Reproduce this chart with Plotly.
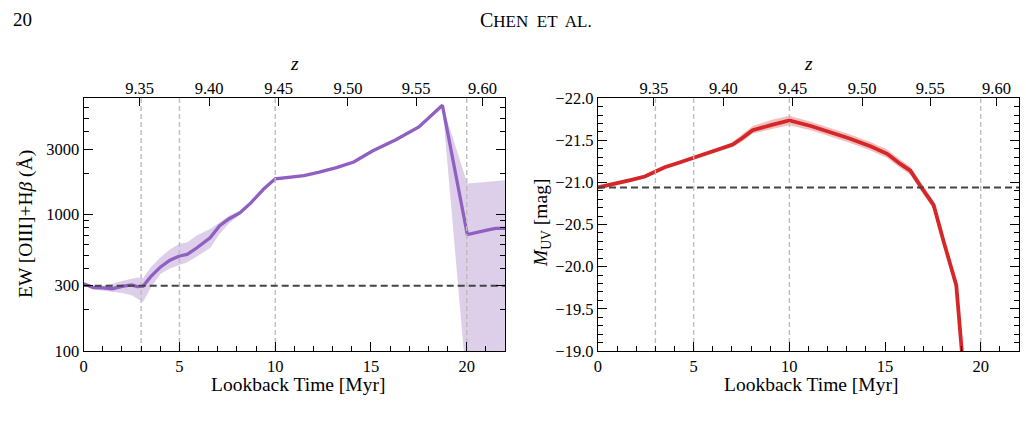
import plotly.graph_objects as go

# ---------------- data ----------------
# Left panel: EW [OIII]+Hbeta vs lookback time
t_ew = [0, 0.5, 1.0, 1.5, 2.0, 2.5, 2.8, 3.1, 3.5, 4.0, 4.5, 5.0, 5.4, 5.9, 6.6, 7.1,
        7.6, 8.15, 8.7, 9.4, 10.0, 10.6, 11.5, 12.3, 13.2, 14.1, 15.1, 16.3, 17.5,
        18.73, 20.03, 21.0, 21.5, 22.0]
ew = [310, 290, 289, 285, 296, 304, 295, 297, 349, 410, 461, 495, 508, 566, 673, 824,
      927, 1021, 1200, 1528, 1815, 1845, 1915, 2032, 2190, 2410, 2910, 3510, 4350,
      6270, 710, 761, 789, 789]
ew_low = [305, 282, 275, 270, 265, 255, 240, 228, 290, 365, 400, 425, 445, 490, 565, 720,
          860, 990, 1170, 1500, 1780, 1810, 1880, 1990, 2150, 2360, 2850, 3440, 4260,
          6270, 50, 50, 50, 50]
ew_high = [312, 300, 300, 310, 325, 340, 345, 340, 410, 482, 551, 607, 620, 700, 780, 870,
           980, 1060, 1230, 1560, 1850, 1880, 1950, 2070, 2230, 2460, 2970, 3580, 4440,
           6300, 1675, 1720, 1750, 1775]
ew_ref = 300

# Right panel: M_UV vs lookback time
t_muv = [0, 0.88, 1.75, 2.45, 2.97, 3.49, 4.18, 5.0, 5.74, 6.52, 7.04, 7.56, 8.08, 9.04,
         10.0, 11.12, 11.99, 13.03, 14.24, 15.11, 15.8, 16.32, 16.84, 17.54, 18.06,
         18.72, 19.01, 19.3]
muv = [-20.94, -20.98, -21.03, -21.07, -21.13, -21.18, -21.23, -21.29, -21.35, -21.41,
       -21.45, -21.53, -21.62, -21.68, -21.735, -21.67, -21.61, -21.53, -21.43, -21.34,
       -21.22, -21.14, -20.96, -20.73, -20.30, -19.78, -19.0, -18.0]
muv_bright = [-20.96, -21.00, -21.05, -21.09, -21.15, -21.20, -21.25, -21.31, -21.37, -21.43,
              -21.48, -21.57, -21.67, -21.74, -21.79, -21.72, -21.66, -21.58, -21.48, -21.39,
              -21.27, -21.19, -21.01, -20.78, -20.35, -19.83, -19.05, -18.05]
muv_faint = [-20.92, -20.96, -21.01, -21.05, -21.11, -21.16, -21.21, -21.27, -21.33, -21.39,
             -21.42, -21.49, -21.58, -21.63, -21.68, -21.62, -21.56, -21.48, -21.38, -21.29,
             -21.17, -21.09, -20.91, -20.68, -20.25, -19.73, -18.95, -17.95]
muv_ref = -20.94

# Reference epochs (vertical lines)
t_marks = [3, 5, 10, 20]

# Top axis: redshift labels and their lookback-time positions
z_labels = ["9.35", "9.40", "9.45", "9.50", "9.55", "9.60"]
z_pos = [2.92, 6.55, 10.18, 13.8, 17.36, 20.82]

# Axis ticks
t_ticks = [0, 5, 10, 15, 20]
ew_ticks = [100, 300, 1000, 3000]
ew_minor = [200, 400, 500, 600, 700, 800, 900, 2000, 4000, 5000, 6000, 7000]
muv_ticks = [-22.0, -21.5, -21.0, -20.5, -20.0, -19.5, -19.0]

# ---------------- style ----------------
W, H = 1026, 430
FONT = "Liberation Serif, Times New Roman, serif"
PURPLE = "#8f5fc2"
PURPLE_BAND = "rgba(148,103,189,0.32)"
RED = "#d62728"
RED_BAND = "rgba(214,39,40,0.30)"
VGRAY = "#bdbdbd"
DGRAY = "#444444"

def px_x(p):
    return p / W

def px_y(p):
    return 1 - p / H

dom_y = [px_y(357.7), px_y(93.3)]
dom_l = [px_x(80), px_x(503)]
dom_r = [px_x(596.3), px_x(1019)]

fig = go.Figure()

# ---- left panel ----
fig.add_trace(go.Scatter(x=t_ew, y=ew_low, mode="lines", line=dict(width=0),
                         showlegend=False, hoverinfo="skip", xaxis="x", yaxis="y"))
fig.add_trace(go.Scatter(x=t_ew, y=ew_high, mode="lines", line=dict(width=0),
                         fill="tonexty", fillcolor=PURPLE_BAND,
                         showlegend=False, hoverinfo="skip", xaxis="x", yaxis="y"))
fig.add_trace(go.Scatter(x=t_ew, y=ew, mode="lines", line=dict(color=PURPLE, width=3.3),
                         showlegend=False, xaxis="x", yaxis="y"))
for t in t_marks:
    fig.add_trace(go.Scatter(x=[t, t], y=[100, 7100], mode="lines",
                             line=dict(color=VGRAY, width=1.4, dash="5px,3px"),
                             showlegend=False, hoverinfo="skip", xaxis="x3", yaxis="y"))
fig.add_trace(go.Scatter(x=[0, 22], y=[ew_ref, ew_ref], mode="lines",
                         line=dict(color=DGRAY, width=2, dash="7px,4px"),
                         showlegend=False, hoverinfo="skip", xaxis="x3", yaxis="y"))

# ---- right panel ----
fig.add_trace(go.Scatter(x=t_muv, y=muv_faint, mode="lines", line=dict(width=0),
                         showlegend=False, hoverinfo="skip", xaxis="x2", yaxis="y2"))
fig.add_trace(go.Scatter(x=t_muv, y=muv_bright, mode="lines", line=dict(width=0),
                         fill="tonexty", fillcolor=RED_BAND,
                         showlegend=False, hoverinfo="skip", xaxis="x2", yaxis="y2"))
fig.add_trace(go.Scatter(x=t_muv, y=muv, mode="lines", line=dict(color=RED, width=3.8),
                         showlegend=False, xaxis="x2", yaxis="y2"))
for t in t_marks:
    fig.add_trace(go.Scatter(x=[t, t], y=[-19, -22], mode="lines",
                             line=dict(color=VGRAY, width=1.4, dash="5px,3px"),
                             showlegend=False, hoverinfo="skip", xaxis="x4", yaxis="y2"))
fig.add_trace(go.Scatter(x=[0, 22], y=[muv_ref, muv_ref], mode="lines",
                         line=dict(color=DGRAY, width=2, dash="7px,4px"),
                         showlegend=False, hoverinfo="skip", xaxis="x4", yaxis="y2"))

tickfont = dict(family=FONT, size=16.5, color="black")

def bottom_x(domain, anchor):
    return dict(domain=domain, anchor=anchor, range=[0, 22], showgrid=False, zeroline=False,
                showline=True, linecolor="black", linewidth=1.3, mirror=True,
                ticks="inside", ticklen=9, tickwidth=1.1, tickcolor="black",
                tickvals=t_ticks, ticktext=[str(v) for v in t_ticks], tickfont=tickfont,
                minor=dict(dtick=1, tick0=0, ticks="inside", ticklen=5, tickwidth=1,
                           tickcolor="black", showgrid=False))

def top_x(overlay, anchor):
    return dict(overlaying=overlay, anchor=anchor, side="top", range=[0, 22],
                showgrid=False, zeroline=False, showline=False,
                ticks="inside", ticklen=8, tickwidth=1.1, tickcolor="black",
                tickvals=z_pos, ticktext=z_labels, tickfont=tickfont)

fig.update_layout(
    width=W, height=H,
    margin=dict(l=0, r=0, t=0, b=0),
    paper_bgcolor="white", plot_bgcolor="white",
    showlegend=False,
    xaxis=bottom_x(dom_l, "y"),
    xaxis2=bottom_x(dom_r, "y2"),
    xaxis3=top_x("x", "y"),
    xaxis4=top_x("x2", "y2"),
    yaxis=dict(domain=dom_y, anchor="x", type="log", range=[2, 3.849],
               showgrid=False, zeroline=False, showline=True, linecolor="black",
               linewidth=1.3, mirror="ticks", ticks="inside", ticklen=9, tickwidth=1.1,
               tickcolor="black", tickvals=ew_ticks, ticktext=[str(v) for v in ew_ticks],
               tickfont=tickfont,
               minor=dict(tickvals=ew_minor, ticks="inside", ticklen=5, tickwidth=1,
                          tickcolor="black", showgrid=False)),
    yaxis2=dict(domain=dom_y, anchor="x2", range=[-19, -22],
                showgrid=False, zeroline=False, showline=True, linecolor="black",
                linewidth=1.3, mirror="ticks", ticks="inside", ticklen=9, tickwidth=1.1,
                tickcolor="black", tickvals=muv_ticks,
                ticktext=[("\u2212%.1f" % abs(v)) for v in muv_ticks],
                tickfont=tickfont,
                minor=dict(dtick=0.1, tick0=-22, ticks="inside", ticklen=5, tickwidth=1,
                           tickcolor="black", showgrid=False)),
)

title_font = dict(family=FONT, size=19.5, color="black")
ann = [
    dict(x=px_x(295), y=px_y(393), text="Lookback Time [Myr]"),
    dict(x=px_x(810), y=px_y(393), text="Lookback Time [Myr]"),
    dict(x=px_x(291.5), y=px_y(57), text="<i>z</i>"),
    dict(x=px_x(807.5), y=px_y(57), text="<i>z</i>"),
    dict(x=px_x(22), y=px_y(225), text="EW [OIII]+H<i>β</i> (Å)", textangle=-90),
    dict(x=px_x(540), y=px_y(224), text="<i>M</i><sub>UV</sub> [mag]", textangle=-90),
    dict(x=px_x(7), y=px_y(11), text="20", xanchor="left",
         font=dict(family=FONT, size=19, color="black")),
    dict(x=px_x(534), y=px_y(11),
         text="C<span style='font-size:17px'>HEN  ET  AL.</span>",
         font=dict(family=FONT, size=20, color="black")),
]
for a in ann:
    base = dict(xref="paper", yref="paper", showarrow=False, font=title_font,
                xanchor="center", yanchor="middle")
    base.update(a)
    fig.add_annotation(**base)

fig.write_html("out.html", config={"displayModeBar": False})
